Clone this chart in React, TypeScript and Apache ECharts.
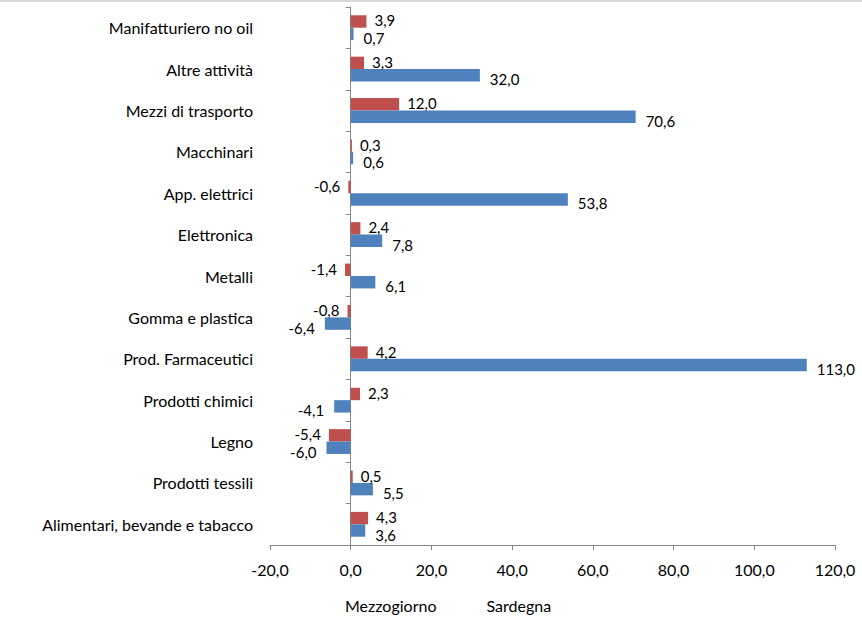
import React, { useEffect, useRef } from 'react';
import * as echarts from 'echarts';

const categories = [
  'Alimentari, bevande e tabacco',
  'Prodotti tessili',
  'Legno',
  'Prodotti chimici',
  'Prod. Farmaceutici',
  'Gomma e plastica',
  'Metalli',
  'Elettronica',
  'App. elettrici',
  'Macchinari',
  'Mezzi di trasporto',
  'Altre attività',
  'Manifatturiero no oil',
];
const mezzogiorno = [4.3, 0.5, -5.4, 2.3, 4.2, -0.8, -1.4, 2.4, -0.6, 0.3, 12.0, 3.3, 3.9];
const sardegna = [3.6, 5.5, -6.0, -4.1, 113.0, -6.4, 6.1, 7.8, 53.8, 0.6, 70.6, 32.0, 0.7];
const seriesNames = ['Mezzogiorno', 'Sardegna'];
const xMin = -20;
const xMax = 120;
const xInterval = 20;

const FONT = 'Lato, "Liberation Sans", sans-serif';
const fmt = (v: number) => v.toFixed(1).replace('.', ',');

export default function App() {
  const ref = useRef<HTMLDivElement>(null);
  useEffect(() => {
    document.body.style.margin = '0';
    if (!ref.current) return;
    const chart = echarts.init(ref.current, undefined, { renderer: 'svg' });
    const mkData = (vals: number[]) =>
      vals.map((v) => ({ value: v, label: { position: v < 0 ? 'left' : 'right' } }));
    chart.setOption({
      animation: false,
      textStyle: { fontFamily: FONT },
      graphic: [
        {
          type: 'rect',
          silent: true,
          shape: { x: 0, y: 0, width: 862, height: 2 },
          style: { fill: '#d9d9d9' },
        },
      ],
      grid: { left: 270, right: 27, top: 7, bottom: 72, outerBoundsMode: 'none' },
      legend: {
        data: seriesNames,
        icon: 'none',
        itemWidth: 0,
        itemHeight: 10,
        left: 335,
        top: 592,
        itemGap: 45,
        textStyle: { fontSize: 16, color: '#000', fontFamily: FONT },
      },
      xAxis: {
        type: 'value',
        min: xMin,
        max: xMax,
        interval: xInterval,
        axisLine: { show: true, lineStyle: { color: '#868686', width: 1 } },
        axisTick: { show: true, length: 5, lineStyle: { color: '#868686' } },
        splitLine: { show: false },
        axisLabel: {
          formatter: (v: number) => fmt(v),
          fontSize: 16,
          color: '#000',
          margin: 16,
          fontFamily: FONT,
        },
      },
      yAxis: {
        type: 'category',
        data: categories,
        axisLine: { show: true, onZero: true, lineStyle: { color: '#868686', width: 1 } },
        axisTick: { show: true, length: 5, lineStyle: { color: '#868686' } },
        axisLabel: { margin: 17, fontSize: 16, color: '#000', fontFamily: FONT },
      },
      series: [
        {
          name: seriesNames[0],
          type: 'bar',
          data: mkData(mezzogiorno),
          itemStyle: { color: '#C0504D' },
          barGap: '0%',
          barCategoryGap: '40%',
          label: {
            show: true,
            distance: 8,
            offset: [0, -1],
            fontSize: 15,
            color: '#000',
            fontFamily: FONT,
            formatter: (p: any) => fmt(p.value),
          },
        },
        {
          name: seriesNames[1],
          type: 'bar',
          data: mkData(sardegna),
          itemStyle: { color: '#4F81BD' },
          barGap: '0%',
          barCategoryGap: '40%',
          label: {
            show: true,
            distance: 10,
            offset: [0, 4],
            fontSize: 15,
            color: '#000',
            fontFamily: FONT,
            formatter: (p: any) => fmt(p.value),
          },
        },
      ],
    });
    return () => chart.dispose();
  }, []);
  return <div ref={ref} style={{ width: 862, height: 617 }} />;
}
